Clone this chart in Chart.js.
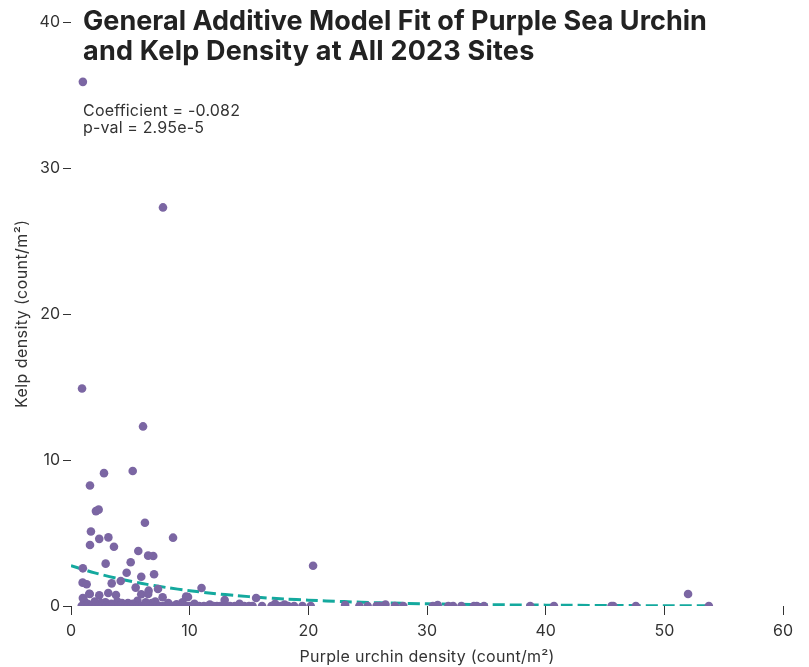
<!DOCTYPE html>
<html>
<head>
<meta charset="utf-8">
<script src="https://cdn.jsdelivr.net/npm/chart.js@4/dist/chart.umd.min.js"></script>
<style>
  html, body { margin: 0; padding: 0; background: #fff; }
  #wrap { position: relative; width: 809px; height: 667px; }
</style>
</head>
<body>
<div id="wrap"><canvas id="c" width="809" height="667"></canvas></div>
<script>
// ---- Data ----
const titleLines = ["General Additive Model Fit of Purple Sea Urchin", "and Kelp Density at All 2023 Sites"];
const statLines = ["Coefficient = -0.082", "p-val = 2.95e-5"];
const xTitle = "Purple urchin density (count/m²)";
const yTitle = "Kelp density (count/m²)";
const xTicks = [0, 10, 20, 30, 40, 50, 60];
const yTicks = [0, 10, 20, 30, 40];

// Sites with kelp above zero
const urchinX = [1.0, 7.75, 0.93, 6.07, 2.78, 5.2, 1.6, 2.1, 2.33, 6.23, 1.68, 8.6, 1.6, 2.38, 3.15, 3.62, 5.67, 6.5, 6.93, 2.92,
  5.03, 1.0, 4.69, 5.92, 7.0, 4.19, 3.43, 0.98, 1.32, 5.45, 6.54, 7.33, 11.0, 1.54, 2.38, 3.14, 3.79, 1.0, 5.92, 7.72,
  9.86, 12.95, 15.6, 20.4, 52.0, 23.1, 26.5, 30.9, 6.5, 1.58, 9.7,
  1.1, 2.0, 2.9, 3.9, 4.8, 5.6, 6.3, 7.1, 8.2, 9.4, 10.4, 11.7, 14.2, 17.2, 18.0, 1.4, 2.5, 3.4, 4.3, 5.2, 6.8, 8.9];
const kelpY = [35.9, 27.3, 14.9, 12.3, 9.1, 9.25, 8.25, 6.5, 6.6, 5.7, 5.1, 4.68, 4.18, 4.6, 4.7, 4.06, 3.77, 3.45, 3.42, 2.9,
  3.0, 2.58, 2.28, 2.0, 2.17, 1.71, 1.55, 1.6, 1.49, 1.26, 1.05, 1.16, 1.23, 0.84, 0.73, 0.89, 0.75, 0.55, 0.8, 0.6,
  0.62, 0.41, 0.55, 2.76, 0.82, 0.07, 0.1, 0.07, 0.82, 0.82, 0.64,
  0.35, 0.3, 0.25, 0.3, 0.2, 0.35, 0.25, 0.3, 0.2, 0.25, 0.15, 0.1, 0.15, 0.15, 0.1, 0.15, 0.2, 0.15, 0.2, 0.15, 0.2, 0.12];

// Sites with no kelp
const zeroKelpX = [0.9, 1.0, 1.1, 1.2, 1.4, 1.5, 1.7, 1.8, 2.0, 2.1, 2.3, 2.4, 2.6, 2.7, 2.9, 3.0, 3.2, 3.3, 3.5, 3.6,
  3.8, 4.0, 4.1, 4.3, 4.5, 4.6, 4.8, 5.0, 5.1, 5.3, 5.5, 5.6, 5.8, 6.0, 6.2, 6.3, 6.5, 6.7, 6.9, 7.1,
  7.3, 7.5, 7.8, 8.0, 8.3, 8.6, 8.9, 9.2, 9.4, 9.6, 9.8, 10.0, 10.2, 10.5, 10.8, 11.2, 11.6, 12.0, 12.3, 12.6,
  13.0, 13.4, 13.8, 14.2, 14.6, 15.0, 15.3, 16.1, 16.9, 17.3, 17.7, 18.3, 18.8, 19.5, 20.2, 24.3, 25.0, 25.75, 26.0, 27.3,
  28.0, 30.5, 31.8, 32.2, 32.9, 33.95, 34.2, 34.8, 38.7, 40.7, 45.55, 45.7, 47.6, 53.75];

// GAM fit curve
const fitX = [0, 2, 4, 6, 8, 10, 12, 14, 16, 18, 20, 23, 26, 30, 34, 38, 42, 46, 50, 54];
const fitY = [2.76, 2.27, 1.87, 1.54, 1.27, 1.05, 0.86, 0.71, 0.58, 0.48, 0.40, 0.30, 0.22, 0.15, 0.10, 0.07, 0.05, 0.03, 0.02, 0.01];

// ---- Build chart ----
const purple = '#7b66a3';
const teal = '#14a99e';
const ink = '#333333';
const FONT = "'Inter', 'Roboto', sans-serif";

const pts = urchinX.map((x, i) => ({ x: x, y: kelpY[i] }))
  .concat(zeroKelpX.map(x => ({ x: x, y: 0 })));
const fitPts = fitX.map((x, i) => ({ x: x, y: fitY[i] }));

// draw text stretched (via letter spacing) to the width it has in the reference
function fitText(ctx, text, x, y, width) {
  ctx.letterSpacing = '0px';
  const w = ctx.measureText(text).width;
  const gaps = Math.max(1, text.length - 1);
  const ls = (width - w) / gaps;
  ctx.letterSpacing = ls.toFixed(2) + 'px';
  ctx.fillText(text, x, y);
  ctx.letterSpacing = '0px';
}

const textPlugin = {
  id: 'textPlugin',
  afterDraw(chart) {
    const ctx = chart.ctx;
    const area = chart.chartArea;
    ctx.save();
    ctx.textAlign = 'left';
    ctx.textBaseline = 'alphabetic';
    ctx.fillStyle = '#222';
    ctx.font = "700 27px " + FONT;
    fitText(ctx, titleLines[0], 83, 30, 624);
    ctx.font = "700 27px " + FONT;
    const w1 = ctx.measureText(titleLines[1]).width;
    fitText(ctx, titleLines[1], 83, 60, w1 * 1.016);
    ctx.fillStyle = ink;
    ctx.font = "400 16px " + FONT;
    fitText(ctx, statLines[0], 83, 116, 157);
    ctx.font = "400 16px " + FONT;
    fitText(ctx, statLines[1], 83, 133, 121);

    // axis titles
    ctx.font = "400 16px " + FONT;
    ctx.textAlign = 'left';
    ctx.textBaseline = 'middle';
    const xCenter = (area.left + area.right) / 2;
    const xw = 255;
    fitText(ctx, xTitle, xCenter - xw / 2, 657, xw);
    ctx.save();
    ctx.translate(22, (area.top + area.bottom) / 2);
    ctx.rotate(-Math.PI / 2);
    const yw = 188;
    fitText(ctx, yTitle, -yw / 2, 0, yw);
    ctx.restore();
    ctx.restore();
  }
};

new Chart(document.getElementById('c'), {
  type: 'scatter',
  data: {
    datasets: [
      {
        type: 'line',
        data: fitPts,
        borderColor: teal,
        borderWidth: 3,
        borderDash: [12, 5],
        pointRadius: 0,
        fill: false,
        tension: 0.3,
        order: 2
      },
      {
        data: pts,
        backgroundColor: purple,
        borderColor: purple,
        borderWidth: 0,
        pointRadius: 4.3,
        order: 1
      }
    ]
  },
  options: {
    responsive: false,
    animation: false,
    devicePixelRatio: 1,
    layout: { padding: { top: 22, right: 26, left: 0, bottom: 0 } },
    plugins: { legend: { display: false }, tooltip: { enabled: false } },
    scales: {
      x: {
        type: 'linear',
        min: 0, max: 60,
        afterBuildTicks(scale) { scale.ticks = xTicks.map(v => ({ value: v })); },
        afterFit(scale) { scale.height = 61; },
        border: { display: false },
        grid: { drawOnChartArea: false, drawTicks: true, tickLength: 9, color: ink, lineWidth: 1 },
        ticks: { color: ink, font: { family: FONT, size: 16 }, padding: 7, maxRotation: 0 },
        title: { display: false }
      },
      y: {
        type: 'linear',
        min: 0, max: 40,
        afterBuildTicks(scale) { scale.ticks = yTicks.map(v => ({ value: v })); },
        afterFit(scale) { scale.width = 71; },
        border: { display: false },
        grid: { drawOnChartArea: false, drawTicks: true, tickLength: 8, color: ink, lineWidth: 1 },
        ticks: { color: ink, font: { family: FONT, size: 16 }, padding: 3 },
        title: { display: false }
      }
    }
  },
  plugins: [textPlugin]
});
</script>
</body>
</html>
